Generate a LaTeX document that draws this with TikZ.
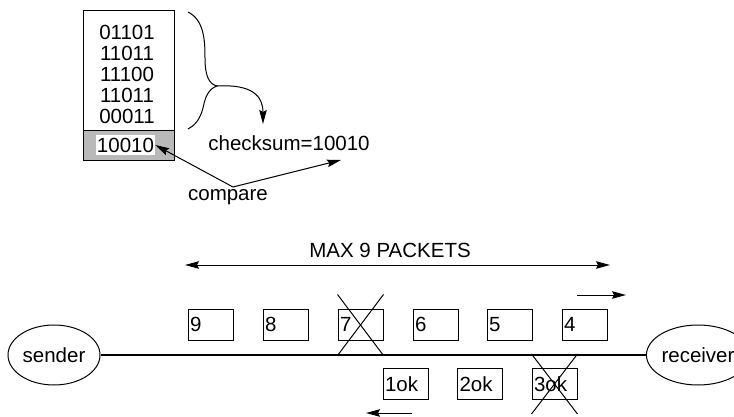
\documentclass[tikz,border=0pt]{standalone}
\usepackage{fontspec}
\setmainfont{Liberation Sans}
\usetikzlibrary{arrows.meta,shapes.geometric,calc}
\tikzset{
  arr/.style={-{Stealth[length=14pt,width=7.5pt,inset=2pt]}, line width=1pt},
  twoarr/.style={{Stealth[length=14pt,width=7.5pt,inset=2pt]}-{Stealth[length=14pt,width=7.5pt,inset=2pt]}, line width=1pt},
  txt/.style={font=\fontsize{20.5}{21}\selectfont, inner sep=0pt},
  packet/.style={draw, line width=1pt, minimum width=45pt, minimum height=31pt,
    inner sep=0pt, font=\fontsize{20.5}{21}\selectfont, text width=41pt, align=left},
  host/.style={draw, ellipse, line width=1pt, minimum width=92pt, minimum height=60pt,
    inner sep=0pt, font=\fontsize{20.5}{21}\selectfont},
  cross/.style={line width=1pt},
  wire/.style={line width=2.8pt}
}
\begin{document}
\begin{tikzpicture}[x=1pt,y=-1pt]
\useasboundingbox (0,0) rectangle (734,417);

% data block with its checksum field
\fill[gray!55] (83,131) rectangle (174,161);
\node[draw, line width=1pt, minimum width=91pt, minimum height=150pt, inner sep=0pt] (block) at (128.5,86) {};
\draw[line width=1pt] (83,131) -- (174,131);
\node[txt] (w1) at (127,32) {01101};
\node[txt] (w2) at (127,53) {11011};
\node[txt] (w3) at (127,74) {11100};
\node[txt] (w4) at (127,95) {11011};
\node[txt] (w5) at (127,116) {00011};
\node[txt, fill=white, minimum width=59pt, minimum height=20pt] (sum) at (125.5,145) {10010};

% brace summing the words
\coordinate (tip) at (217,86);
\draw[line width=1pt] (188,12) .. controls (204,20) and (205,40) .. (205,58)
  .. controls (205,76) and (209,84) .. (tip)
  .. controls (208,89) and (205,98) .. (203,108)
  .. controls (200,120) and (194,126) .. (188,129);
\node[txt] (chk) at (289,143) {checksum=10010};
\draw[arr] (tip) .. controls (252,84) and (263,96) .. (263,124);

% comparison
\node[txt] (cmp) at (228,197) {compare};
\coordinate (fork) at (233,187);
\coordinate (chkend) at (341,160);
\draw[arr] (fork) -- (sum.east);
\draw[arr] (fork) -- (chkend);

% sliding window
\node[txt] (maxlbl) at (390,250) {MAX 9 PACKETS};
\coordinate (winl) at (185,265);
\coordinate (winr) at (610,265);
\draw[twoarr] (winl) -- (winr);

\coordinate (fwa) at (577,295);
\coordinate (fwb) at (626,295);
\draw[arr] (fwa) -- (fwb);

% hosts and link
\node[host] (sender) at (54,355) {sender};
\node[host] (receiver) at (698,355) {receiver};
\draw[wire] (sender) -- (receiver);

% packets in flight
\node[packet] (p9) at (210.5,324.5) {9};
\node[packet] (p8) at (285.5,324.5) {8};
\node[packet] (p7) at (360.5,324.5) {7};
\node[packet] (p6) at (435.5,324.5) {6};
\node[packet] (p5) at (509.5,324.5) {5};
\node[packet] (p4) at (584.5,324.5) {4};

\node[packet] (a1) at (405.5,384) {1ok};
\node[packet] (a2) at (480,384) {2ok};
\node[packet] (a3) at (554.5,384) {3ok};

% lost packet and lost acknowledgement
\draw[cross] ($(p7.north west)+(0,-14)$) -- ($(p7.south east)+(0,15)$);
\draw[cross] ($(p7.south west)+(0,15)$) -- ($(p7.north east)+(0,-14)$);
\draw[cross] ($(a3.north west)+(0,-14)$) -- ($(a3.south east)+(0,14)$);
\draw[cross] ($(a3.south west)+(0,14)$) -- ($(a3.north east)+(0,-14)$);

\coordinate (bka) at (412,413);
\coordinate (bkb) at (366,413);
\draw[arr] (bka) -- (bkb);
\end{tikzpicture}
\end{document}
